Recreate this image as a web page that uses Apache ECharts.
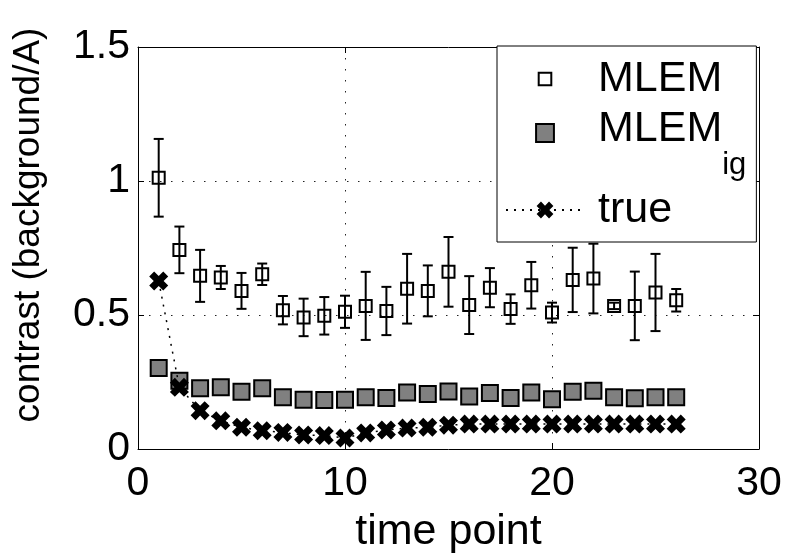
<!DOCTYPE html>
<html>
<head>
<meta charset="utf-8">
<script src="https://cdn.jsdelivr.net/npm/echarts@6/dist/echarts.min.js"></script>
<style>
  html, body { margin: 0; padding: 0; background: #fff; }
  #chart { width: 788px; height: 559px; }
</style>
</head>
<body>
<div id="chart"></div>
<script>
// values
var timePoints = [1, 2, 3, 4, 5, 6, 7, 8, 9, 10, 11, 12, 13, 14, 15, 16, 17, 18, 19, 20, 21, 22, 23, 24, 25, 26];
var mlem = [1.012, 0.743, 0.646, 0.640, 0.590, 0.652, 0.518, 0.491, 0.497, 0.512, 0.534, 0.515, 0.598,
            0.590, 0.661, 0.537, 0.602, 0.522, 0.611, 0.509, 0.631, 0.636, 0.534, 0.534, 0.584, 0.555];
var mlemErr = [0.145, 0.087, 0.097, 0.043, 0.067, 0.040, 0.053, 0.070, 0.070, 0.060, 0.127, 0.090, 0.130,
               0.095, 0.130, 0.108, 0.073, 0.055, 0.087, 0.037, 0.120, 0.130, 0.012, 0.128, 0.144, 0.042];
var mlemIg = [0.302, 0.255, 0.227, 0.230, 0.214, 0.227, 0.193, 0.184, 0.183, 0.184, 0.193, 0.190, 0.211,
              0.205, 0.215, 0.196, 0.209, 0.190, 0.211, 0.186, 0.214, 0.217, 0.193, 0.189, 0.193, 0.193];
var trueVals = [0.627, 0.230, 0.143, 0.105, 0.081, 0.068, 0.062, 0.052, 0.050, 0.041, 0.060, 0.071, 0.078,
                0.081, 0.089, 0.093, 0.093, 0.093, 0.093, 0.093, 0.093, 0.093, 0.093, 0.093, 0.093, 0.093];
var xTicks = [0, 10, 20, 30];
var yTicks = [0, 0.5, 1, 1.5];

var FONT = "'Liberation Sans', Arial, Helvetica, sans-serif";
var X_SHAPE = 'path://M0,2.6 L2.6,0 L5,2.4 L7.4,0 L10,2.6 L7.6,5 L10,7.4 L7.4,10 L5,7.6 L2.6,10 L0,7.4 L2.4,5 Z';
// legend icons: invisible corner points keep the squares small inside the icon box
var ICON_SMALL_SQ = 'path://M-4,-4 L-4,-4 M16,16 L16,16 M0,0 L12,0 L12,12 L0,12 Z';
var ICON_BIG_SQ = 'path://M-1.5,-1.5 L-1.5,-1.5 M18.5,18.5 L18.5,18.5 M0,0 L17,0 L17,17 L0,17 Z';

var pair = function (ys) {
    return timePoints.map(function (t, i) { return [t, ys[i]]; });
};
var errData = timePoints.map(function (t, i) {
    return [t, mlem[i] - mlemErr[i], mlem[i] + mlemErr[i]];
});

var chart = echarts.init(document.getElementById('chart'), null, { renderer: 'canvas' });

var axisBase = {
    type: 'value',
    axisLine: { show: true, onZero: false, lineStyle: { color: '#000', width: 1 } },
    axisTick: { show: true, inside: true, length: 6, lineStyle: { color: '#000' } },
    splitLine: { show: false }
};
var gridDots = { show: true, lineStyle: { color: '#222', width: 1, type: [1.5, 9.5] } };

chart.setOption({
    animation: false,
    backgroundColor: '#fff',
    grid: { left: 138, right: 29, top: 47, bottom: 109 },
    xAxis: [
        Object.assign({}, axisBase, {
            min: xTicks[0], max: xTicks[xTicks.length - 1], interval: 10,
            position: 'bottom',
            name: 'time point', nameLocation: 'middle', nameGap: 62,
            nameTextStyle: { fontFamily: FONT, fontSize: 43, color: '#000' },
            axisLabel: { margin: 14, fontFamily: FONT, fontSize: 41, color: '#000' },
            splitLine: gridDots
        }),
        Object.assign({}, axisBase, {
            min: xTicks[0], max: xTicks[xTicks.length - 1], interval: 10,
            position: 'top', axisLabel: { show: false }
        })
    ],
    yAxis: [
        Object.assign({}, axisBase, {
            min: yTicks[0], max: yTicks[yTicks.length - 1], interval: 0.5,
            position: 'left',
            name: 'contrast (background/A)', nameLocation: 'middle', nameGap: 91, nameRotate: 90,
            nameTextStyle: { fontFamily: FONT, fontSize: 37, color: '#000', padding: [0, 0, 0, 46] },
            axisLabel: { margin: 8, fontFamily: FONT, fontSize: 41, color: '#000' },
            splitLine: gridDots
        }),
        Object.assign({}, axisBase, {
            min: yTicks[0], max: yTicks[yTicks.length - 1], interval: 0.5,
            position: 'right', axisLabel: { show: false }
        })
    ],
    legend: {
        orient: 'vertical',
        left: 497, top: 46,
        padding: [8, 10, 7, 8],
        itemGap: 4,
        itemWidth: 78, itemHeight: 21,
        backgroundColor: '#fff',
        borderColor: '#000', borderWidth: 1,
        data: [
            { name: 'MLEM', icon: ICON_SMALL_SQ },
            { name: 'MLEM_ig', icon: ICON_BIG_SQ },
            { name: 'true' }
        ],
        formatter: function (name) {
            if (name === 'MLEM_ig') return '{a|MLEM}{s|ig}';
            return name;
        },
        textStyle: {
            fontFamily: FONT, fontSize: 43, color: '#000', lineHeight: 50,
            padding: [0, 0, 0, 9],
            rich: {
                a: { fontFamily: FONT, fontSize: 43, lineHeight: 50, verticalAlign: 'top', color: '#000' },
                s: { fontFamily: FONT, fontSize: 31, lineHeight: 30, verticalAlign: 'top', padding: [42, 0, 0, 0], color: '#000' }
            }
        }
    },
    series: [
        {
            name: 'MLEM error',
            type: 'custom',
            data: errData,
            encode: { x: 0, y: [1, 2] },
            z: 2,
            renderItem: function (params, api) {
                var x = api.value(0);
                var lo = api.coord([x, api.value(1)]);
                var hi = api.coord([x, api.value(2)]);
                var cap = 5;
                var st = { stroke: '#000', lineWidth: 2, fill: null };
                return {
                    type: 'group',
                    children: [
                        { type: 'line', shape: { x1: lo[0], y1: lo[1], x2: hi[0], y2: hi[1] }, style: st },
                        { type: 'line', shape: { x1: lo[0] - cap, y1: lo[1], x2: lo[0] + cap, y2: lo[1] }, style: st },
                        { type: 'line', shape: { x1: hi[0] - cap, y1: hi[1], x2: hi[0] + cap, y2: hi[1] }, style: st }
                    ]
                };
            }
        },
        {
            name: 'MLEM',
            type: 'scatter',
            data: pair(mlem),
            symbol: 'rect',
            symbolSize: 12,
            symbolKeepAspect: true,
            z: 3,
            itemStyle: { color: 'rgba(255,255,255,0)', borderColor: '#000', borderWidth: 2, opacity: 1 }
        },
        {
            name: 'MLEM_ig',
            type: 'scatter',
            data: pair(mlemIg),
            symbol: 'rect',
            symbolSize: 16,
            symbolKeepAspect: true,
            z: 4,
            itemStyle: { color: '#808080', borderColor: '#000', borderWidth: 2, opacity: 1 }
        },
        {
            name: 'true',
            type: 'line',
            data: pair(trueVals),
            symbol: X_SHAPE,
            symbolSize: 19,
            symbolKeepAspect: true,
            showSymbol: true,
            z: 5,
            lineStyle: { color: '#000', width: 1.5, type: [2, 6] },
            itemStyle: { color: '#000', borderWidth: 0 }
        }
    ]
});
</script>
</body>
</html>
